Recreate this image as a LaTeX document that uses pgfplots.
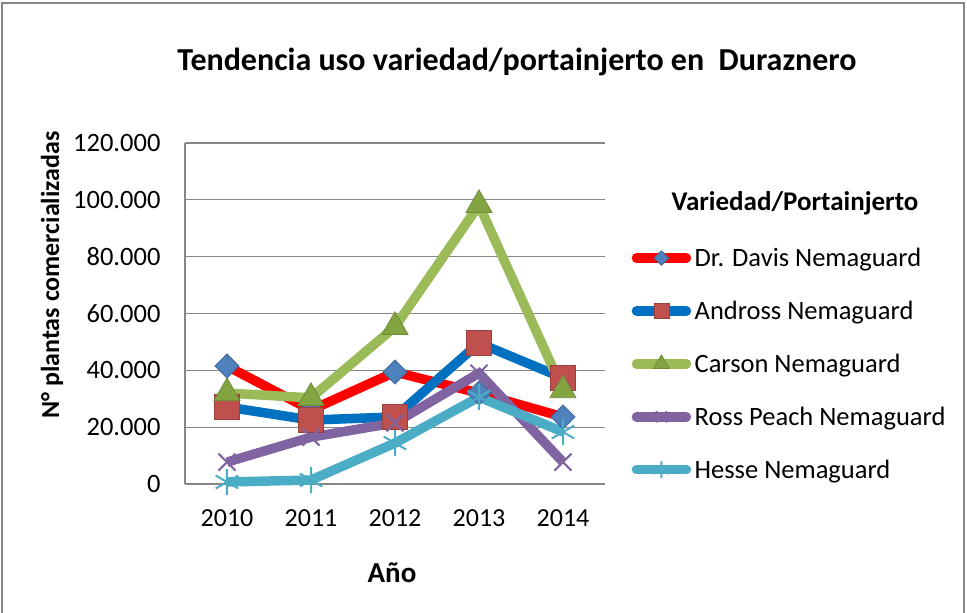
\documentclass[border=0pt]{standalone}
\usepackage{pgfplots}
\pgfplotsset{compat=1.18}
\usepackage{fontspec}
\setmainfont{Carlito}
\definecolor{cRed}{RGB}{255,0,0}
\definecolor{cDia}{RGB}{79,129,189}
\definecolor{cBlue}{RGB}{0,112,192}
\definecolor{cSq}{RGB}{192,80,77}
\definecolor{cGreen}{RGB}{155,187,89}
\definecolor{cTri}{RGB}{130,165,65}
\definecolor{cPurple}{RGB}{128,100,162}
\definecolor{cCyan}{RGB}{75,172,198}
\definecolor{cGrid}{RGB}{134,134,134}
\begin{document}
\begin{tikzpicture}
\path[use as bounding box] (0pt,0pt) rectangle (967pt,613pt);
\draw[cGrid, line width=1.5pt] (2pt,-5pt) rectangle (964pt,610pt);
\node[font=\bfseries\fontsize{32}{36}\selectfont] at (517pt,551pt) {Tendencia uso variedad/portainjerto en\ \ Duraznero};
\node[font=\bfseries\fontsize{26}{30}\selectfont, rotate=90] at (52pt,338pt) {N° plantas comercializadas};
\node[font=\bfseries\fontsize{29}{33}\selectfont] at (392pt,40pt) {Año};
\node[font=\bfseries\fontsize{27}{31}\selectfont] at (795pt,410pt) {Variedad/Portainjerto};
\begin{axis}[
  at={(185pt,129pt)}, anchor=south west, scale only axis,
  width=420pt, height=341pt,
  xmin=0.5, xmax=5.5, ymin=0, ymax=120000,
  xtick={1,2,3,4,5}, xticklabels={2010,2011,2012,2013,2014},
  ytick={0,20000,40000,60000,80000,100000,120000},
  scaled y ticks=false,
  /pgf/number format/.cd, fixed, 1000 sep={.}, assume math mode=true, /pgfplots/.cd,
  ymajorgrids, grid style={cGrid, line width=1.2pt},
  axis x line*=bottom, axis y line*=left,
  x axis line style={draw=none},
  y axis line style={cGrid, line width=1.2pt, -},
  major tick length=0pt,
  xtick style={draw=none}, ytick style={draw=none},
  tick label style={font=\fontsize{26}{30}\selectfont},
  yticklabel style={font=\fontsize{26.5}{30}\selectfont, xshift=-21pt},
  xticklabel style={yshift=-22pt},
  clip=false,
  legend cell align=left,
  legend image code/.code={\draw[line cap=round, mark repeat=2, mark phase=2, /tikz/every mark/.append style={scale=0.6}] plot coordinates {(0pt,0pt) (25pt,0pt) (50pt,0pt)};},
  legend style={draw=none, fill=none, at={(1.063,0.701)}, anchor=north west,
    font=\fontsize{26.5}{30}\selectfont, row sep=27pt, inner xsep=0pt, inner ysep=0pt,
    nodes={inner xsep=1pt, inner ysep=3pt},
    /tikz/every odd column/.style={column sep=2.5pt}},
  every axis plot/.append style={line width=9.5pt},
]
\addplot[cRed, mark=square*, mark size=8.5pt, mark options={rotate=45, fill=cDia, draw=cDia!80!black, line width=0.8pt}]
  coordinates {(1,41500) (2,26000) (3,39400) (4,32000) (5,23600)};
\addlegendentry{Dr. Davis Nemaguard}
\addplot[cBlue, mark=square*, mark size=12.5pt, mark options={fill=cSq, draw=cSq!80!black, line width=0.8pt}]
  coordinates {(1,27100) (2,22500) (3,23600) (4,49600) (5,37300)};
\addlegendentry{Andross Nemaguard}
\addplot[cGreen, mark=triangle*, mark size=15pt, mark options={fill=cTri, draw=cTri!85!black, line width=0.8pt}]
  coordinates {(1,32000) (2,30300) (3,55300) (4,98200) (5,33000)};
\addlegendentry{Carson Nemaguard}
\addplot[cPurple, mark=x, mark size=12pt, mark options={draw=cPurple, line width=2pt}]
  coordinates {(1,7700) (2,16500) (3,21500) (4,39000) (5,7700)};
\addlegendentry{Ross Peach Nemaguard}
\addplot[cCyan, mark=asterisk, mark size=13pt, mark options={draw=cCyan, line width=2pt}]
  coordinates {(1,700) (2,1400) (3,14400) (4,30600) (5,18300)};
\addlegendentry{Hesse Nemaguard}
\end{axis}
\end{tikzpicture}
\end{document}
